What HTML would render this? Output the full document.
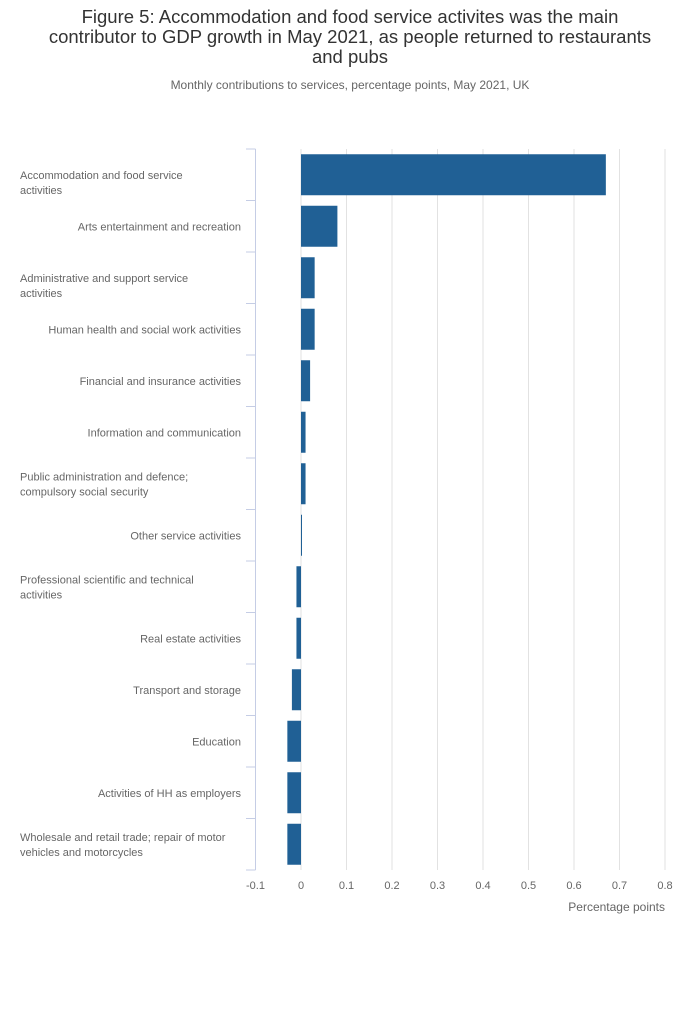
<!DOCTYPE html>
<html><head><meta charset="utf-8"><style>
body{margin:0;width:700px;height:1020px;background:#fff;font-family:"Liberation Sans",sans-serif;overflow:hidden}
#title{position:absolute;top:7px;left:0;width:700px;text-align:center;font-size:18.5px;line-height:20px;color:#333;white-space:nowrap}
#sub{position:absolute;top:78px;left:0;width:700px;text-align:center;font-size:12px;color:#666}
</style></head><body>
<div id="title">Figure 5: Accommodation and food service activites was the main<br>contributor to GDP growth in May 2021, as people returned to restaurants<br>and pubs</div>
<div id="sub">Monthly contributions to services, percentage points, May 2021, UK</div>
<svg id="chart" width="700" height="1020" style="position:absolute;left:0;top:0"></svg>
<script>
const categories=[["Accommodation and food service","activities"],["Arts entertainment and recreation"],["Administrative and support service","activities"],["Human health and social work activities"],["Financial and insurance activities"],["Information and communication"],["Public administration and defence;","compulsory social security"],["Other service activities"],["Professional scientific and technical","activities"],["Real estate activities"],["Transport and storage"],["Education"],["Activities of HH as employers"],["Wholesale and retail trade; repair of motor","vehicles and motorcycles"]];
const values=[0.67,0.08,0.03,0.03,0.02,0.01,0.01,0.0,-0.01,-0.01,-0.02,-0.03,-0.03,-0.03];
const ticks=[-0.1,0,0.1,0.2,0.3,0.4,0.5,0.6,0.7,0.8];
const tickLabels=["-0.1","0","0.1","0.2","0.3","0.4","0.5","0.6","0.7","0.8"];
const svg=document.getElementById('chart');const NS="http://www.w3.org/2000/svg";
const x0=255.5,x1=665,plotTop=149,plotBot=870,vmin=-0.1,vmax=0.8;
const X=v=>x0+(v-vmin)/(vmax-vmin)*(x1-x0);
const band=(plotBot-plotTop)/categories.length;
function mk(t,a,p){const e=document.createElementNS(NS,t);for(const k in a)e.setAttribute(k,a[k]);(p||svg).appendChild(e);return e;}
ticks.forEach((t,i)=>{
 if(t!==vmin){const g=mk('line',{x1:X(t),x2:X(t),y1:plotTop,y2:plotBot,stroke:'#e2e2e2','stroke-width':1});
 
 }
 const l=mk('text',{x:X(t),y:889,'text-anchor':'middle','font-size':11,fill:'#666'});l.textContent=tickLabels[i];
 
 
});
const ax=mk('line',{x1:x0,x2:x0,y1:plotTop,y2:plotBot,stroke:'#c5cde5','stroke-width':1});


for(let i=0;i<=categories.length;i++){const y=plotTop+i*band;const tk=mk('line',{x1:246,x2:x0,y1:y,y2:y,stroke:'#c5cde5','stroke-width':1});
 
 }
categories.forEach((c,i)=>{
 const cy=plotTop+(i+0.5)*band;const v=values[i];
 const r=mk('rect',{x:Math.min(X(0),X(v)),y:cy-20.5,width:Math.max(1,Math.abs(X(v)-X(0))),height:41,fill:'#206095'});
 
 
 const t=mk('text',{'font-size':11,fill:'#666'});
 
 
 if(c.length===1){t.setAttribute('x',241);t.setAttribute('y',cy+4);t.setAttribute('text-anchor','end');t.textContent=c[0];}
 else{const off=i<3?4:-3.5;c.forEach((s,j)=>{const ts=mk('tspan',{x:20,y:cy+off+j*15},t);ts.textContent=s;});}
});
const xt=mk('text',{x:665,y:911,'text-anchor':'end','font-size':12,fill:'#666'});xt.textContent='Percentage points';


</script>
</body></html>
